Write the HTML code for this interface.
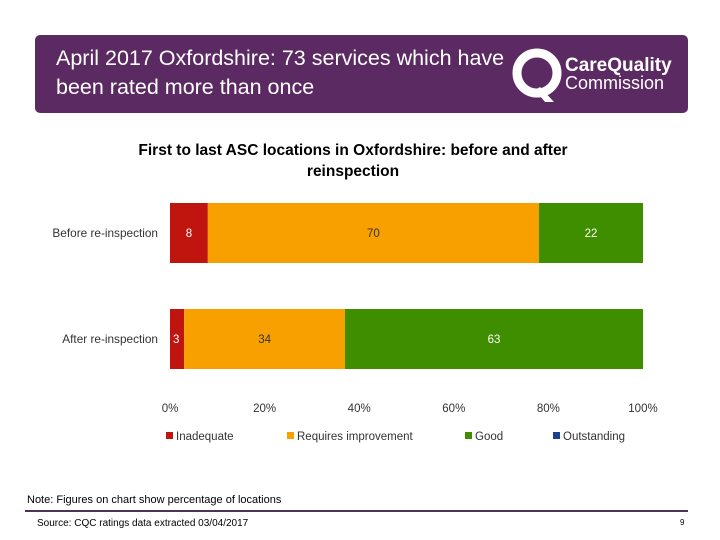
<!DOCTYPE html>
<html><head><meta charset="utf-8"><style>
body{margin:0;width:720px;height:540px;background:#fff;position:relative;overflow:hidden;font-family:"Liberation Sans",sans-serif}
.banner{position:absolute;left:35px;top:35px;width:653px;height:78px;background:#5c2a62;border-radius:5px}
.title{position:absolute;left:56px;top:44px;color:#fff;font-size:21.5px;line-height:29px}
</style></head><body>
<div class="banner"></div>
<div class="title">April 2017 Oxfordshire: 73 services which have<br>been rated more than once</div>
<svg style="position:absolute;left:510px;top:45px" width="170" height="60">
<circle cx="27" cy="28" r="20" fill="none" stroke="#fff" stroke-width="9"/>
<path d="M30 42 L44 57 L35 57 L25 45 Z" fill="#fff"/>
<text x="55" y="26" fill="#fff" font-size="19" font-weight="bold" font-family="Liberation Sans, sans-serif">CareQuality</text>
<text x="55" y="44" fill="#fff" font-size="18" font-family="Liberation Sans, sans-serif">Commission</text>
</svg>
<svg id="chart" style="position:absolute;left:0;top:0" width="720" height="540"></svg>
<div style="position:absolute;left:27px;top:494px;font-size:11px;color:#000">Note: Figures on chart show percentage of locations</div>
<div style="position:absolute;left:25px;top:510px;width:663px;height:2px;background:#4a3550"></div>
<div style="position:absolute;left:37px;top:518px;font-size:10px;color:#000">Source: CQC ratings data extracted 03/04/2017</div>
<div style="position:absolute;left:680px;top:518px;font-size:8px;color:#000">9</div>
<script>
const categories=["Before re-inspection","After re-inspection"];
const seriesNames=["Inadequate","Requires improvement","Good","Outstanding"];
const inadequate=[8,3];
const requiresImprovement=[70,34];
const good=[22,63];
const outstanding=[0,0];
const tickLabels=["0%","20%","40%","60%","80%","100%"];
const tickValues=[0,20,40,60,80,100];
const colors=["#c0140f","#f7a000","#3f8e00","#1f3f8f"];
const labelColors=["#fff","#333","#fff","#fff"];
const series=[inadequate,requiresImprovement,good,outstanding];
const NS="http://www.w3.org/2000/svg";
const svg=document.getElementById('chart');
const x0=170,x1=643;
const xs=v=>x0+(x1-x0)*v/100;
const barTop=[203,309],barH=60;
function el(t,a,txt){const e=document.createElementNS(NS,t);for(const k in a)e.setAttribute(k,a[k]);if(txt!=null)e.textContent=txt;svg.appendChild(e);return e;}
let t=el('text',{x:353,y:155,'text-anchor':'middle','font-size':15.5,'font-weight':'bold',fill:'#000'},'First to last ASC locations in Oxfordshire: before and after');


t=el('text',{x:353,y:176,'text-anchor':'middle','font-size':15.5,'font-weight':'bold',fill:'#000'},'reinspection');


categories.forEach((c,i)=>{
  const y=barTop[i];
  let lab=el('text',{x:158,y:y+barH/2+4,'text-anchor':'end','font-size':11.8,fill:'#333'},c);
  
  
  let cum=0;
  series.forEach((s,j)=>{
    const v=s[i];
    if(v>0){
      const r=el('rect',{x:xs(cum),y:y,width:xs(cum+v)-xs(cum),height:barH,fill:colors[j]});
      
      
      const vl=el('text',{x:v<6?xs(cum)+3:xs(cum+v/2),y:y+barH/2+4,'text-anchor':v<6?'start':'middle','font-size':11.5,fill:labelColors[j]},String(v));
      
      
    }
    cum+=v;
  });
});
tickValues.forEach((v,i)=>{
  const tl=el('text',{x:xs(v),y:412,'text-anchor':'middle','font-size':11.5,fill:'#333'},tickLabels[i]);
  
  
});
const legX=[166,287,465,553];
seriesNames.forEach((n,i)=>{
  const r=el('rect',{x:legX[i],y:432,width:7,height:7,fill:colors[i]});
  
  
  const lt=el('text',{x:legX[i]+10,y:440,'font-size':11.5,fill:'#333'},n);
  
  
});
</script>
</body></html>
